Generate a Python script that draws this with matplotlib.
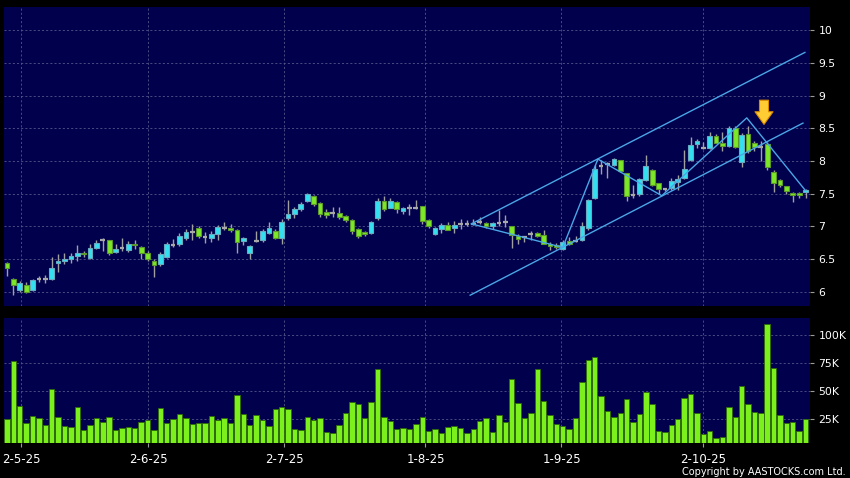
import matplotlib
matplotlib.use('Agg')
import matplotlib.pyplot as plt
import numpy as np

# ---------------- data ----------------
opens = [6.44, 6.205, 6.035, 6.11, 6.035, 6.19, 6.19, 6.19, 6.44, 6.47,
         6.50, 6.55, 6.60, 6.52, 6.67, 6.795, 6.795, 6.61, 6.67, 6.64,
         6.725, 6.69, 6.60, 6.48, 6.425, 6.53, 6.72, 6.74, 6.83, 6.92,
         6.98, 6.835, 6.83, 6.88, 6.98, 6.98, 6.95, 6.78, 6.59, 6.78,
         6.79, 6.90, 6.93, 6.825, 7.13, 7.19, 7.26, 7.39, 7.47, 7.36,
         7.215, 7.205, 7.205, 7.16, 7.10, 6.96, 6.92, 6.90, 7.13, 7.39,
         7.29, 7.38, 7.23, 7.29, 7.29, 7.31, 7.10, 6.89, 6.965, 7.02,
         6.98, 7.04, 7.04, 7.04, 7.065, 7.055, 7.00, 7.05, 7.065, 7.00,
         6.86, 6.835, 6.89, 6.90, 6.87, 6.74, 6.72, 6.66, 6.78, 6.785,
         6.795, 6.97, 7.43, 7.93, 7.955, 7.94, 8.015, 7.81, 7.48, 7.50,
         7.71, 7.86, 7.66, 7.57, 7.59, 7.68, 7.735, 8.015, 8.26, 8.205,
         8.205, 8.385, 8.28, 8.235, 8.51, 7.99, 8.41, 8.28, 8.22, 8.26,
         7.83, 7.71, 7.615, 7.51, 7.51, 7.52]

closes = [6.36, 6.10, 6.13, 5.995, 6.18, 6.19, 6.19, 6.365, 6.48, 6.51,
          6.55, 6.60, 6.575, 6.67, 6.75, 6.795, 6.60, 6.66, 6.67, 6.73,
          6.715, 6.595, 6.50, 6.405, 6.58, 6.74, 6.72, 6.85, 6.91, 6.92,
          6.85, 6.835, 6.89, 6.99, 6.98, 6.95, 6.765, 6.83, 6.70, 6.78,
          6.93, 6.98, 6.825, 7.07, 7.195, 7.26, 7.34, 7.49, 7.35, 7.195,
          7.17, 7.205, 7.14, 7.10, 6.93, 6.86, 6.88, 7.07, 7.395, 7.26,
          7.395, 7.26, 7.29, 7.29, 7.29, 7.08, 7.00, 6.98, 7.025, 6.95,
          7.03, 7.04, 7.04, 7.04, 7.065, 7.00, 7.05, 7.05, 7.065, 6.87,
          6.815, 6.835, 6.89, 6.86, 6.74, 6.70, 6.68, 6.77, 6.74, 6.785,
          7.00, 7.40, 7.88, 7.93, 7.955, 8.03, 7.85, 7.465, 7.48, 7.72,
          7.92, 7.64, 7.58, 7.57, 7.69, 7.73, 7.88, 8.25, 8.30, 8.205,
          8.39, 8.28, 8.23, 8.51, 8.22, 8.40, 8.16, 8.22, 8.22, 7.91,
          7.67, 7.63, 7.54, 7.48, 7.48, 7.56]

highs = [6.45, 6.21, 6.17, 6.155, 6.20, 6.24, 6.26, 6.53, 6.58, 6.60,
         6.59, 6.71, 6.62, 6.74, 6.80, 6.83, 6.80, 6.73, 6.83, 6.78,
         6.79, 6.70, 6.62, 6.50, 6.61, 6.76, 6.81, 6.90, 6.96, 7.04,
         7.00, 6.91, 6.93, 7.02, 7.07, 7.04, 6.96, 6.84, 6.71, 6.93,
         6.96, 7.07, 6.96, 7.12, 7.40, 7.30, 7.37, 7.51, 7.48, 7.37,
         7.27, 7.30, 7.30, 7.18, 7.11, 6.97, 6.93, 7.08, 7.43, 7.46,
         7.43, 7.39, 7.30, 7.35, 7.40, 7.32, 7.11, 6.99, 7.055, 7.07,
         7.09, 7.12, 7.10, 7.12, 7.14, 7.07, 7.07, 7.25, 7.17, 7.01,
         6.89, 6.86, 6.93, 6.92, 6.95, 6.77, 6.75, 6.79, 6.84, 6.86,
         7.07, 7.42, 7.94, 8.015, 7.99, 8.05, 8.02, 7.82, 7.63, 7.74,
         8.09, 7.88, 7.67, 7.59, 7.74, 7.78, 8.17, 8.37, 8.33, 8.29,
         8.45, 8.42, 8.44, 8.53, 8.53, 8.43, 8.53, 8.30, 8.30, 8.29,
         7.86, 7.73, 7.62, 7.52, 7.52, 7.57]

lows = [6.24, 5.96, 6.00, 5.98, 6.02, 6.15, 6.14, 6.18, 6.30, 6.43,
        6.435, 6.47, 6.53, 6.51, 6.66, 6.63, 6.56, 6.60, 6.63, 6.605,
        6.66, 6.50, 6.48, 6.235, 6.395, 6.52, 6.69, 6.70, 6.80, 6.795,
        6.83, 6.75, 6.76, 6.80, 6.94, 6.91, 6.59, 6.71, 6.50, 6.76,
        6.77, 6.88, 6.81, 6.73, 7.10, 7.13, 7.24, 7.37, 7.32, 7.14,
        7.13, 7.15, 7.12, 7.07, 6.89, 6.825, 6.86, 6.89, 7.10, 7.24,
        7.28, 7.20, 7.195, 7.17, 7.27, 7.04, 6.98, 6.875, 6.90, 6.94,
        6.90, 6.965, 7.00, 7.02, 7.04, 6.98, 6.96, 7.01, 6.99, 6.67,
        6.74, 6.76, 6.80, 6.84, 6.73, 6.64, 6.66, 6.64, 6.72, 6.77,
        6.78, 6.95, 7.42, 7.80, 7.735, 7.92, 7.84, 7.385, 7.44, 7.47,
        7.70, 7.62, 7.50, 7.54, 7.56, 7.55, 7.72, 8.00, 8.20, 8.18,
        8.19, 8.27, 8.15, 8.22, 8.20, 7.91, 8.13, 8.15, 8.00, 7.86,
        7.53, 7.60, 7.50, 7.37, 7.43, 7.43]

volumes_k = [24.7, 76.8, 36.8, 21.0, 27.4, 25.9, 19.9, 52.0, 26.8, 18.7,
             18.0, 35.2, 14.8, 19.3, 25.9, 22.6, 26.8, 15.0, 17.2, 17.5,
             16.9, 22.6, 24.4, 15.0, 34.3, 21.4, 24.5, 29.3, 25.9, 20.8,
             21.4, 21.5, 27.7, 24.0, 25.6, 21.5, 46.0, 29.8, 19.2, 28.6,
             24.4, 19.0, 34.2, 35.2, 34.2, 16.3, 15.4, 27.1, 24.1, 25.9,
             13.3, 12.4, 19.3, 30.1, 40.1, 38.6, 25.9, 39.7, 69.3, 26.5,
             23.5, 16.0, 17.2, 15.7, 20.8, 27.1, 13.9, 16.3, 12.6, 17.5,
             18.4, 16.9, 12.4, 16.0, 22.9, 25.9, 13.6, 28.9, 22.6, 60.3,
             39.5, 25.9, 30.7, 69.3, 41.3, 28.9, 20.5, 18.3, 15.9, 26.0,
             57.6, 77.5, 79.9, 45.0, 32.4, 27.0, 30.6, 43.0, 22.5, 29.4,
             49.2, 38.4, 14.1, 13.2, 19.8, 24.6, 43.8, 47.1, 30.3, 11.4,
             14.1, 8.1, 8.7, 36.0, 27.0, 54.6, 38.4, 31.5, 30.6, 109.6,
             70.6, 28.2, 21.6, 22.5, 14.1, 24.6]

date_labels = ['2-5-25', '2-6-25', '2-7-25', '1-8-25', '1-9-25', '2-10-25']
date_tick_idx = [2.2, 22.1, 43.4, 65.5, 86.8, 109.0]

price_ticks = [6, 6.5, 7, 7.5, 8, 8.5, 9, 9.5, 10]
price_tick_labels = ['6', '6.5', '7', '7.5', '8', '8.5', '9', '9.5', '10']
vol_ticks = [25, 50, 75, 100]
vol_tick_labels = ['25K', '50K', '75K', '100K']

# trend-channel annotations (index, price)
upper_channel_x = [72.7, 124.9]
upper_channel_y = [7.04, 9.66]
lower_channel_x = [72.5, 124.6]
lower_channel_y = [5.95, 8.58]
zigzag_x = [72.7, 87.0, 92.5, 102.5, 115.8, 124.9]
zigzag_y = [7.04, 6.68, 8.03, 7.47, 8.66, 7.56]
arrow_x = 118.5
arrow_tail = 8.93
arrow_tip = 8.56

# ---------------- figure ----------------
W, H = 850, 478
fig = plt.figure(figsize=(W / 100, H / 100), dpi=100, facecolor='black')
ax = fig.add_axes([4 / W, 1 - 306 / H, 806 / W, 299 / H])
axv = fig.add_axes([4 / W, 1 - 443 / H, 806 / W, 125 / H], sharex=ax)

navy = '#00004c'
for a in (ax, axv):
    a.set_facecolor(navy)
    for s in a.spines.values():
        s.set_visible(False)
    a.yaxis.tick_right()
    a.tick_params(axis='y', colors='#9a9a9a', labelcolor='white', length=3,
                  width=0.8, labelsize=7.8, pad=3)
    a.grid(True, color='#55558a', linestyle=(0, (2.5, 2.5)), linewidth=0.6)
    a.set_axisbelow(True)

o = np.array(opens)
c = np.array(closes)
h = np.array(highs)
l = np.array(lows)
x = np.arange(len(o))
up = c > o
dn = c < o
dj = c == o
bw = 0.74

ax.vlines(x, l, h, color='#a0a0a0', lw=1, zorder=2)
ax.bar(x[up], (c - o)[up], bottom=o[up], width=bw, color='#33e0f0',
       edgecolor='#6aaac0', lw=0.8, zorder=3)
ax.bar(x[dn], (o - c)[dn], bottom=c[dn], width=bw, color='#7de827',
       edgecolor='#5b9a2a', lw=0.8, zorder=3)
ax.hlines(o[dj], x[dj] - bw / 2, x[dj] + bw / 2, color='#a8a8a8', lw=1.6, zorder=3)

line_c = '#4aa6e6'
ax.plot(upper_channel_x, upper_channel_y, color=line_c, lw=1, zorder=4)
ax.plot(lower_channel_x, lower_channel_y, color=line_c, lw=1, zorder=4)
ax.plot(zigzag_x, zigzag_y, color=line_c, lw=1, zorder=4)

ax.annotate('', xy=(arrow_x, arrow_tip), xytext=(arrow_x, arrow_tail),
            arrowprops=dict(arrowstyle='simple,head_length=0.7,head_width=1.0,tail_width=0.5',
                            fc='#ffcc33', ec='#d98a00', lw=0.8,
                            shrinkA=0, shrinkB=0, mutation_scale=13),
            zorder=6)

ax.set_ylim(5.785, 10.354)
ax.set_yticks(price_ticks)
ax.set_yticklabels(price_tick_labels)
ax.tick_params(axis='x', length=0, labelbottom=False)

axv.bar(x, volumes_k, width=0.85, color='#7cf01c', edgecolor='#2e6a08', lw=0.6, zorder=3)
axv.set_ylim(3.5, 115)
axv.set_yticks(vol_ticks)
axv.set_yticklabels(vol_tick_labels)
axv.set_xticks(date_tick_idx)
axv.set_xticklabels(date_labels)
axv.tick_params(axis='x', colors='#9a9a9a', labelcolor='white', length=3,
                width=0.8, labelsize=8.5, pad=4.5)
axv.set_xlim(-0.47, 125.7)

fig.text(846 / W, 1 - 475 / H, 'Copyright by AASTOCKS.com Ltd.', ha='right',
         va='baseline', color='white', fontsize=7)

fig.savefig('out.png', dpi=100, facecolor='black')
